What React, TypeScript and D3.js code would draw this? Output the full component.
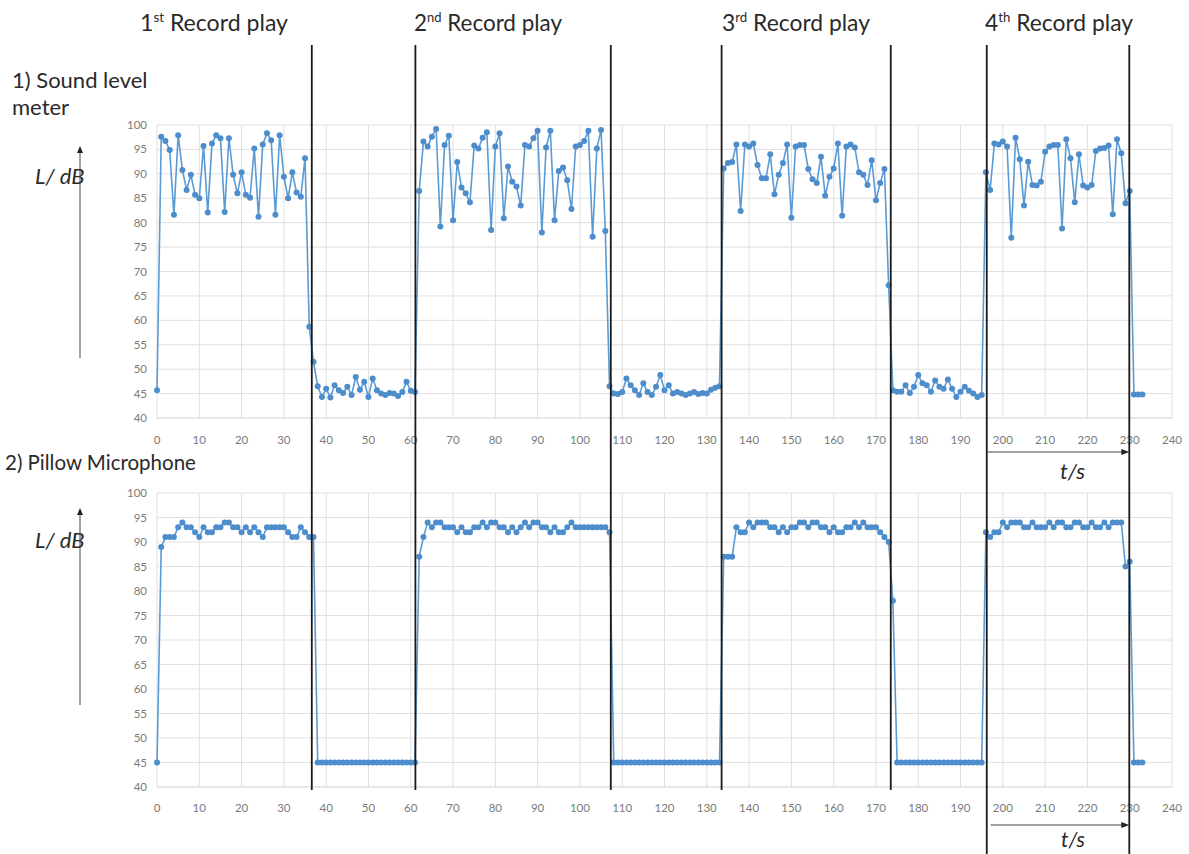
import React from 'react';
import * as d3 from 'd3';

// ---------- data ----------
const timeTicks = [0, 10, 20, 30, 40, 50, 60, 70, 80, 90, 100, 110, 120, 130, 140, 150, 160, 170, 180, 190, 200, 210, 220, 230, 240];
const levelTicks = [40, 45, 50, 55, 60, 65, 70, 75, 80, 85, 90, 95, 100];
const recordOrdinals = ['1', '2', '3', '4'];
const recordSuffixes = ['st', 'nd', 'rd', 'th'];
const separatorTimes = [36.6, 61.1, 107.3, 133.5, 173.5, 196.2, 229.9];

// Sound level meter, one value per second (t = 0 .. 233)
const slmPlay1 = [45.7, 97.6, 96.7, 94.9, 81.6, 97.9, 90.8, 86.7, 89.8, 85.7, 85.0, 95.7, 82.1, 96.2, 97.9, 97.3, 82.2, 97.3, 89.8, 86.0, 90.3, 85.7, 85.1, 95.2, 81.2, 96.0, 98.3, 96.9, 81.6, 97.9, 89.4, 85.0, 90.3, 86.2, 85.3, 93.2, 58.7, 51.5];
const slmQuiet1 = [46.5, 44.3, 46.0, 44.2, 46.7, 45.7, 45.1, 46.4, 44.7, 48.4, 45.8, 47.4, 44.3, 48.1, 45.7, 45.0, 44.7, 45.1, 45.0, 44.5, 45.3, 47.4, 45.6, 45.3];
const slmPlay2 = [86.5, 96.6, 95.6, 97.6, 99.2, 79.2, 95.9, 97.8, 80.5, 92.4, 87.2, 86.0, 84.2, 95.8, 95.2, 97.4, 98.5, 78.5, 95.6, 98.3, 80.9, 91.5, 88.4, 87.4, 83.5, 95.9, 95.6, 97.3, 98.8, 78.0, 95.4, 98.8, 80.5, 90.6, 91.3, 88.7, 82.8, 95.6, 95.9, 96.7, 98.8, 77.1, 95.2, 99.0, 78.3];
const slmQuiet2 = [46.5, 45.0, 44.9, 45.3, 48.1, 46.7, 45.7, 44.7, 47.1, 45.3, 44.7, 46.4, 48.8, 45.7, 46.7, 45.0, 45.3, 45.0, 44.7, 45.0, 45.3, 44.9, 45.1, 45.0, 45.8, 46.2, 46.5];
const slmPlay3 = [91.1, 92.2, 92.4, 96.0, 82.4, 96.0, 95.6, 96.2, 91.8, 89.1, 89.1, 94.0, 85.8, 89.8, 92.2, 96.0, 81.0, 95.6, 95.9, 95.9, 91.0, 88.9, 88.1, 93.5, 85.5, 89.4, 91.1, 96.2, 81.4, 95.6, 96.0, 95.4, 90.3, 89.8, 87.7, 92.8, 84.6, 88.1, 91.0, 67.2];
const slmQuiet3 = [45.7, 45.4, 45.4, 46.7, 45.1, 46.4, 48.8, 47.1, 46.7, 45.4, 47.7, 46.4, 46.0, 47.9, 46.0, 44.3, 45.4, 46.4, 45.6, 45.0, 44.3, 44.7];
const slmPlay4 = [90.3, 86.7, 96.2, 96.0, 96.6, 95.6, 76.9, 97.4, 93.0, 83.5, 92.5, 87.7, 87.6, 88.4, 94.5, 95.6, 95.9, 95.9, 78.8, 97.1, 93.2, 84.2, 94.0, 87.6, 87.2, 87.7, 94.7, 95.2, 95.3, 95.8, 81.7, 97.1, 94.2, 84.0, 86.5];
const slmTail = [44.8, 44.8, 44.8];

// Pillow microphone, one value per second (t = 0 .. 233)
const pmPlay1 = [45, 89, 91, 91, 91, 93, 94, 93, 93, 92, 91, 93, 92, 92, 93, 93, 94, 94, 93, 93, 92, 93, 92, 93, 92, 91, 93, 93, 93, 93, 93, 92, 91, 91, 93, 92, 91, 91];
const pmQuiet1 = [45, 45, 45, 45, 45, 45, 45, 45, 45, 45, 45, 45, 45, 45, 45, 45, 45, 45, 45, 45, 45, 45, 45, 45];
const pmPlay2 = [87, 91, 94, 93, 94, 94, 93, 93, 93, 92, 93, 92, 92, 93, 93, 94, 93, 94, 94, 93, 93, 92, 93, 92, 93, 94, 93, 94, 94, 93, 93, 92, 93, 92, 92, 93, 94, 93, 93, 93, 93, 93, 93, 93, 93, 92];
const pmQuiet2 = [45, 45, 45, 45, 45, 45, 45, 45, 45, 45, 45, 45, 45, 45, 45, 45, 45, 45, 45, 45, 45, 45, 45, 45, 45, 45];
const pmPlay3 = [87, 87, 87, 93, 92, 92, 94, 93, 94, 94, 94, 93, 93, 92, 93, 92, 93, 93, 94, 94, 93, 94, 94, 93, 93, 92, 93, 92, 92, 93, 93, 94, 93, 94, 93, 93, 93, 92, 91, 90, 78];
const pmQuiet3 = [45, 45, 45, 45, 45, 45, 45, 45, 45, 45, 45, 45, 45, 45, 45, 45, 45, 45, 45, 45, 45];
const pmPlay4 = [92, 91, 92, 92, 94, 93, 94, 94, 94, 93, 93, 94, 93, 93, 93, 94, 93, 94, 94, 93, 93, 94, 94, 93, 93, 94, 93, 93, 94, 93, 94, 94, 94, 85, 86];
const pmTail = [45, 45, 45];

const soundLevelMeter = [...slmPlay1, ...slmQuiet1, ...slmPlay2, ...slmQuiet2, ...slmPlay3, ...slmQuiet3, ...slmPlay4, ...slmTail];
const pillowMic = [...pmPlay1, ...pmQuiet1, ...pmPlay2, ...pmQuiet2, ...pmPlay3, ...pmQuiet3, ...pmPlay4, ...pmTail];

// ---------- layout ----------
const W = 1189;
const H = 854;
const FONT = 'Lato, "Open Sans", sans-serif';
const LINE = '#5b9bd5';
const MARK = '#4d8dcc';
const TXT = '#2a2a2a';

const x = d3.scaleLinear().domain([0, 240]).range([157, 1172]);
const yTop = d3.scaleLinear().domain([40, 100]).range([418, 125]);
const yBot = d3.scaleLinear().domain([40, 100]).range([787, 493]);

function Panel({ data, y, labelY }: { data: number[]; y: d3.ScaleLinear<number, number>; labelY: number }) {
  const line = d3.line<number>().x((_, i) => x(i)).y((d) => y(d));
  const [y0, y1] = y.range();
  return (
    <g>
      {timeTicks.map((t) => (
        <line key={'v' + t} x1={x(t)} x2={x(t)} y1={y1} y2={y0} stroke="#e0e0e0" strokeWidth={1} />
      ))}
      {levelTicks.map((v) => (
        <line key={'h' + v} x1={x(0)} x2={x(240)} y1={y(v)} y2={y(v)} stroke={v === 40 ? '#cfcfcf' : '#e0e0e0'} strokeWidth={1} />
      ))}
      {levelTicks.map((v) => (
        <text key={'yl' + v} x={147} y={y(v) + 4} textAnchor="end" fontSize={11.5} fill="#7a7a7a" fontFamily={FONT}>
          {v}
        </text>
      ))}
      {timeTicks.map((t) => (
        <text key={'xl' + t} x={x(t)} y={labelY} textAnchor="middle" fontSize={11.5} fill="#7a7a7a" fontFamily={FONT}>
          {t}
        </text>
      ))}
      <path d={line(data) || ''} fill="none" stroke={LINE} strokeWidth={1.6} />
      {data.map((d, i) => (
        <circle key={i} cx={x(i)} cy={y(d)} r={3} fill={MARK} />
      ))}
    </g>
  );
}

function UpArrow({ ax, yFrom, yTo }: { ax: number; yFrom: number; yTo: number }) {
  return (
    <g>
      <line x1={ax} x2={ax} y1={yFrom} y2={yTo + 6} stroke="#444" strokeWidth={1} />
      <path d={`M${ax - 3},${yTo + 7} L${ax},${yTo} L${ax + 3},${yTo + 7} Z`} fill="#222" />
    </g>
  );
}

function RightArrow({ xFrom, xTo, ay }: { xFrom: number; xTo: number; ay: number }) {
  return (
    <g>
      <line x1={xFrom} x2={xTo - 6} y1={ay} y2={ay} stroke="#444" strokeWidth={1} />
      <path d={`M${xTo - 8},${ay - 3} L${xTo},${ay} L${xTo - 8},${ay + 3} Z`} fill="#222" />
    </g>
  );
}

const recordLabelX = [140, 414, 722, 985];

export default function App() {
  return (
    <svg width={W} height={H} viewBox={`0 0 ${W} ${H}`} style={{ position: 'absolute', left: 0, top: 0, background: '#fff' }}>
      <rect x={0} y={0} width={W} height={H} fill="#fff" />
      <Panel data={soundLevelMeter} y={yTop} labelY={444} />
      <Panel data={pillowMic} y={yBot} labelY={812} />

      {separatorTimes.map((t, i) => (
        <line key={'s' + i} x1={x(t)} x2={x(t)} y1={45} y2={i >= 5 ? 854 : 790} stroke="#1a1a1a" strokeWidth={1.8} />
      ))}

      {recordOrdinals.map((n, i) => (
        <text key={'r' + i} x={recordLabelX[i]} y={31} fontSize={22.5} fill={TXT} fontFamily={FONT} textLength={148} lengthAdjust="spacingAndGlyphs">
          {n}
          <tspan fontSize={13} dy={-9}>{recordSuffixes[i]}</tspan>
          <tspan dy={9}> Record play</tspan>
        </text>
      ))}

      <text x={12} y={88} fontSize={22} fill={TXT} fontFamily={FONT}>1) Sound level</text>
      <text x={12} y={115} fontSize={22} fill={TXT} fontFamily={FONT}>meter</text>
      <text x={5} y={470} fontSize={20.5} fill={TXT} fontFamily={FONT}>2) Pillow Microphone</text>

      <text x={35} y={184} fontSize={22} fontStyle="italic" fill={TXT} fontFamily={FONT}>L/ dB</text>
      <text x={35} y={548} fontSize={22} fontStyle="italic" fill={TXT} fontFamily={FONT}>L/ dB</text>
      <UpArrow ax={80} yFrom={358} yTo={146} />
      <UpArrow ax={80} yFrom={705} yTo={508} />

      <RightArrow xFrom={x(separatorTimes[5])} xTo={x(separatorTimes[6])} ay={452} />
      <text x={1060} y={479} fontSize={22} fontStyle="italic" fill={TXT} fontFamily={FONT}>t/s</text>
      <RightArrow xFrom={x(separatorTimes[5]) + 4} xTo={x(separatorTimes[6])} ay={825} />
      <text x={1061} y={847} fontSize={21} fontStyle="italic" fill={TXT} fontFamily={FONT}>t/s</text>
    </svg>
  );
}
